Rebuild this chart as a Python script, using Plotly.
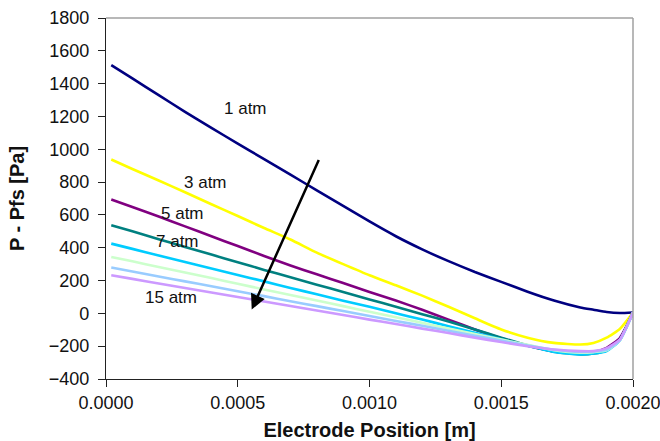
import plotly.graph_objects as go

x_pos = [0.00002, 0.0001, 0.0002, 0.0003, 0.0004, 0.0005, 0.0006, 0.0007, 0.0008, 0.0009,
         0.0010, 0.0011, 0.0012, 0.0013, 0.0014, 0.0015, 0.0016, 0.0017, 0.0018, 0.00185,
         0.0019, 0.00195, 0.0020]

p_1atm = [1513, 1432, 1330, 1228, 1130, 1035, 940, 845, 750, 655,
          560, 470, 390, 318, 252, 192, 132, 78, 36, 22,
          8, 2, 5]
p_3atm = [938, 880, 810, 738, 665, 593, 520, 450, 370, 300,
          232, 171, 108, 40, -30, -98, -148, -180, -190, -180,
          -148, -95, 5]
p_5atm = [694, 648, 590, 530, 470, 410, 350, 292, 238, 185,
          130, 78, 22, -38, -98, -152, -198, -232, -244, -236,
          -210, -150, 5]
p_7atm = [537, 500, 452, 405, 358, 312, 265, 220, 175, 130,
          85, 40, -5, -50, -98, -148, -195, -233, -250, -245,
          -225, -160, 5]
p_9atm = [425, 393, 353, 313, 274, 234, 195, 155, 116, 77,
          40, 0, -38, -78, -118, -158, -198, -235, -250, -245,
          -230, -165, 5]
p_11atm = [344, 317, 283, 249, 215, 180, 146, 112, 78, 44,
           10, -24, -58, -92, -126, -160, -192, -225, -240, -236,
           -225, -165, 5]
p_13atm = [279, 255, 225, 195, 165, 135, 105, 74, 44, 14,
           -16, -46, -76, -106, -136, -166, -196, -222, -235, -232,
           -222, -165, 5]
p_15atm = [232, 210, 182, 155, 127, 100, 72, 45, 17, -10,
           -38, -65, -93, -120, -148, -175, -200, -220, -230, -230,
           -212, -160, 5]

series = [
    ("1 atm", p_1atm, "#000080"),
    ("3 atm", p_3atm, "#FFFF00"),
    ("5 atm", p_5atm, "#800080"),
    ("7 atm", p_7atm, "#008080"),
    ("9 atm", p_9atm, "#00CCFF"),
    ("11 atm", p_11atm, "#CCFFCC"),
    ("13 atm", p_13atm, "#99CCFF"),
    ("15 atm", p_15atm, "#CC99FF"),
]

label_text = ["1 atm", "3 atm", "5 atm", "7 atm", "15 atm"]
label_x = [0.000528, 0.000376, 0.000292, 0.000270, 0.000247]
label_y = [1250, 800, 610, 440, 98]

arrow_start = (0.00081, 944)
arrow_end = (0.000553, 23)

fig = go.Figure()
for name, vals, col in series:
    fig.add_trace(go.Scatter(x=x_pos, y=vals, mode="lines", name=name,
                             line=dict(color=col, width=2.6, shape="spline", smoothing=0.5)))

for t, lx, ly in zip(label_text, label_x, label_y):
    fig.add_annotation(x=lx, y=ly, text=t, showarrow=False,
                       font=dict(family="Liberation Sans, Arial", size=17, color="#111"))

fig.add_annotation(x=arrow_end[0], y=arrow_end[1], ax=arrow_start[0], ay=arrow_start[1],
                   xref="x", yref="y", axref="x", ayref="y", text="", showarrow=True,
                   arrowhead=2, arrowsize=1.2, arrowwidth=2.5, arrowcolor="black")

# gray top/right frame
fig.add_shape(type="line", xref="paper", yref="paper", x0=0, x1=1, y0=1, y1=1,
              line=dict(color="#a0a0a0", width=1.5))
fig.add_shape(type="line", xref="paper", yref="paper", x0=1, x1=1, y0=0, y1=1,
              line=dict(color="#a0a0a0", width=1.5))

fig.update_layout(
    width=660, height=441,
    margin=dict(l=106, r=27, t=18, b=62),
    paper_bgcolor="white", plot_bgcolor="white",
    showlegend=False,
    font=dict(family="Liberation Sans, Arial", color="#111"),
    xaxis=dict(range=[0, 0.002], tickvals=[0, 0.0005, 0.001, 0.0015, 0.002],
               ticktext=["0.0000", "0.0005", "0.0010", "0.0015", "0.0020"],
               showgrid=False, zeroline=False, showline=True, linecolor="#222", linewidth=1.2,
               ticks="outside", ticklen=7, tickcolor="#222", automargin=False,
               ticklabeloverflow="allow",
               tickfont=dict(size=18),
               title=dict(text="<b>Electrode Position [m]</b>", font=dict(size=20), standoff=12)),
    yaxis=dict(range=[-400, 1800], dtick=200, tickformat="d",
               showgrid=False, zeroline=False, showline=True, linecolor="#222", linewidth=1.2,
               ticks="outside", ticklen=7, tickcolor="#222", automargin=False,
               ticklabelstandoff=5,
               tickfont=dict(size=18),
               title=dict(text="<b>P - Pfs [Pa]</b>", font=dict(size=20), standoff=18)),
)

fig.write_html("out.html")
